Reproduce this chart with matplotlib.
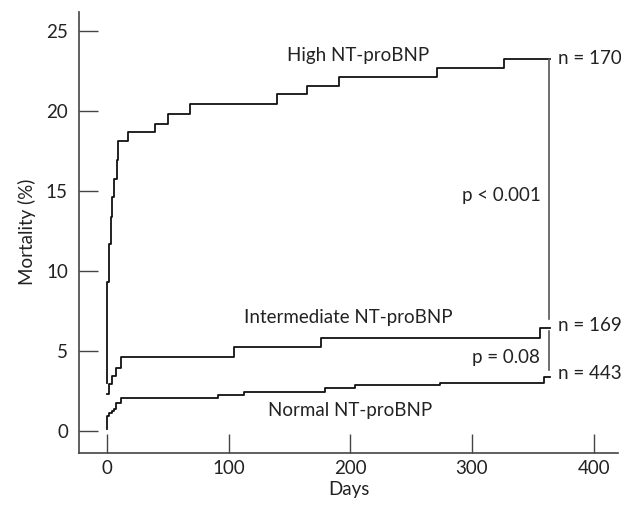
import matplotlib
matplotlib.use("Agg")
import matplotlib.pyplot as plt

plt.rcParams['font.family'] = ['Lato', 'DejaVu Sans']

# Data (days, cumulative mortality %)
high_days = [0, 0.3, 1.9, 3.3, 4.4, 5.8, 8.0, 9.3, 17, 39.5, 50.4, 68.3, 139.6, 164.2, 191, 271.6, 325.9, 364]
high_vals = [3.02, 9.29, 11.69, 13.36, 14.61, 15.72, 16.95, 18.12, 18.68, 19.2, 19.83, 20.46, 21.04, 21.54, 22.12, 22.69, 23.27, 23.27]

int_days = [0, 1.9, 3.8, 7.4, 11.2, 104.4, 176, 356, 364]
int_vals = [2.3, 2.92, 3.44, 3.96, 4.63, 5.22, 5.8, 6.43, 6.43]

norm_days = [0, 0.3, 1.9, 3.8, 5.5, 7.4, 11.2, 90.9, 112.7, 179, 204, 273.8, 358.8, 364]
norm_vals = [0.11, 0.94, 1.11, 1.25, 1.36, 1.77, 2.05, 2.24, 2.46, 2.67, 2.84, 3.02, 3.38, 3.38]

x_ticks = [0, 100, 200, 300, 400]
y_ticks = [0, 5, 10, 15, 20, 25]

group_labels = ["High NT-proBNP", "Intermediate NT-proBNP", "Normal NT-proBNP"]
n_labels = ["n = 170", "n = 169", "n = 443"]
p_labels = ["p < 0.001", "p = 0.08"]

fig = plt.figure(figsize=(6.21, 5.05), dpi=100)
ax = fig.add_axes([0.1272, 0.1036, 0.868, 0.8732])

lc = '#111111'
for d, v in [(high_days, high_vals), (int_days, int_vals), (norm_days, norm_vals)]:
    ax.step(d, v, where='post', color=lc, lw=1.3)

# significance brackets
bx = 363
ax.plot([bx, bx], [23.27, 7.0], color='#555555', lw=1.2)
ax.plot([bx, bx], [6.26, 3.8], color='#555555', lw=1.2)

fs = 13.5
tc = '#222222'
ax.text(206, 23.48, group_labels[0], ha='center', va='center', fontsize=fs, color=tc)
ax.text(198, 7.08, group_labels[1], ha='center', va='center', fontsize=fs, color=tc)
ax.text(200, 1.25, group_labels[2], ha='center', va='center', fontsize=fs, color=tc)

ax.text(370.5, 23.3, n_labels[0], ha='left', va='center', fontsize=fs, color=tc)
ax.text(370.5, 6.57, n_labels[1], ha='left', va='center', fontsize=fs, color=tc)
ax.text(370.5, 3.57, n_labels[2], ha='left', va='center', fontsize=fs, color=tc)

ax.text(357, 14.7, p_labels[0], ha='right', va='center', fontsize=fs, color=tc)
ax.text(356, 4.57, p_labels[1], ha='right', va='center', fontsize=fs, color=tc)

ax.set_xlim(-23, 420)
ax.set_ylim(-1.36, 26.2)
ax.set_xticks(x_ticks)
ax.set_yticks(y_ticks)
ax.tick_params(direction='in', length=14, width=1, color='#444444', labelsize=fs, labelcolor=tc)
ax.tick_params(axis='y', pad=8)
ax.tick_params(axis='x', pad=5)
for s in ['top', 'right']:
    ax.spines[s].set_visible(False)
for s in ['left', 'bottom']:
    ax.spines[s].set_color('#444444')
    ax.spines[s].set_linewidth(1.2)

ax.set_xlabel("Days", fontsize=fs, color=tc, labelpad=3)
ax.set_ylabel("Mortality (%)", fontsize=fs, color=tc, labelpad=7)

fig.savefig("out.png", dpi=100)
